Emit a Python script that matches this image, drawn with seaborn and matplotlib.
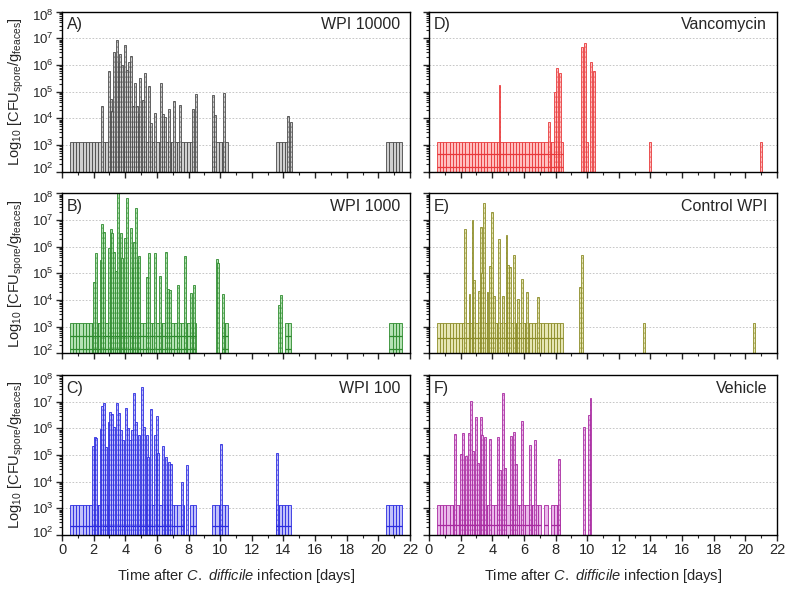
import matplotlib
matplotlib.use('Agg')
import matplotlib.pyplot as plt
import matplotlib.transforms as mtransforms
import seaborn as sns
from matplotlib.ticker import LogLocator, MultipleLocator, NullFormatter

# Sampling schedule (days after infection) shared by all groups
sample_days = [0.5, 0.7, 0.9, 1.1, 1.3, 1.5, 1.7, 1.9, 2.1, 2.3, 2.5, 2.7, 2.9, 3.1,
               3.3, 3.5, 3.7, 3.9, 4.1, 4.3, 4.5, 4.7, 4.9, 5.1, 5.3, 5.5, 5.7, 5.9,
               6.1, 6.3, 6.5, 6.7, 6.9, 7.1, 7.3, 7.5, 7.7, 7.9, 8.1, 8.3,
               9.5, 9.7, 9.9, 10.1, 10.3, 13.5, 13.7, 13.9, 14.1, 14.3,
               20.5, 20.7, 20.9, 21.1, 21.3]
lod_log = 3.12  # detection limit, log10 CFU/g
decades = [1e2, 1e3, 1e4, 1e5, 1e6, 1e7, 1e8]

# A) WPI 10000
a_days = [2.55, 2.97, 3.08, 3.18, 3.29, 3.46, 3.58, 3.69, 3.81, 3.98, 4.11, 4.24,
          4.36, 4.47, 4.59, 4.76, 4.89, 4.95, 5.14, 5.27, 5.48, 5.60, 5.88, 6.26,
          6.41, 6.51, 6.79, 7.08, 7.46, 8.26, 8.47, 9.57, 9.69, 10.26, 14.28, 14.45]
a_log = [4.46, 5.78, 4.71, 4.28, 6.48, 6.94, 6.06, 6.41, 6.00, 6.75, 5.81, 6.12,
         6.34, 4.46, 5.31, 4.46, 4.15, 5.50, 4.69, 5.71, 5.21, 3.81, 4.19, 5.31,
         4.15, 4.04, 4.34, 4.65, 4.49, 4.34, 4.91, 4.88, 4.13, 4.96, 4.09, 3.86]
a_lod_windows = [(0.5, 8.5), (9.5, 10.5), (13.5, 14.5), (20.5, 21.5)]
a_band_log = []

# B) WPI 1000
b_days = [2.04, 2.13, 2.44, 2.55, 2.66, 2.97, 3.08, 3.18, 3.29, 3.39, 3.56, 3.71,
          3.81, 3.98, 4.13, 4.34, 4.47, 4.55, 4.68, 4.78, 4.89, 5.35, 5.48, 5.86,
          6.19, 6.57, 6.70, 6.83, 7.31, 7.80, 8.15, 8.34, 9.78, 9.84, 10.20,
          13.70, 13.84]
b_log = [4.69, 5.75, 5.50, 6.84, 6.56, 5.94, 6.66, 6.50, 5.81, 5.10, 8.00, 6.50,
         5.56, 6.31, 7.81, 6.69, 5.19, 6.19, 7.44, 5.50, 5.65, 4.85, 5.75, 5.75,
         4.88, 5.79, 4.41, 4.38, 4.56, 5.63, 4.25, 4.55, 5.54, 5.38, 4.21,
         3.81, 4.19]
b_lod_windows = [(0.5, 8.5), (10.1, 10.5), (14.1, 14.5), (20.7, 21.5)]
b_band_log = [2.65, 2.15]

# C) WPI 100
c_days = [1.98, 2.07, 2.15, 2.44, 2.53, 2.63, 2.76, 2.95, 3.06, 3.16, 3.27, 3.46,
          3.62, 3.75, 3.88, 4.02, 4.19, 4.30, 4.45, 4.55, 4.68, 4.89, 5.08, 5.20,
          5.35, 5.46, 5.60, 5.88, 5.99, 6.09, 6.36, 6.57, 6.76, 6.89, 7.56, 7.88,
          10.07, 13.57]
c_log = [5.34, 5.69, 5.65, 5.96, 6.84, 6.96, 5.31, 6.25, 6.62, 6.53, 6.06, 6.96,
         6.59, 5.94, 5.56, 6.75, 6.03, 5.56, 5.94, 7.34, 6.25, 5.75, 7.54, 6.06,
         5.75, 4.94, 6.71, 5.75, 6.48, 5.09, 5.34, 4.94, 4.75, 4.66, 4.00, 4.63,
         5.41, 5.06]
c_lod_windows = [(0.5, 7.7), (8.1, 8.5), (9.5, 10.5), (13.5, 14.5), (20.5, 21.5)]
c_band_log = [2.34]

# D) Vancomycin
d_days = [4.46, 7.57, 7.97, 8.08, 8.29, 9.70, 9.89, 10.00, 10.23, 10.46, 14.00, 21.00]
d_log = [5.25, 3.85, 5.00, 5.90, 5.69, 6.69, 6.84, 3.12, 6.10, 5.79, 3.12, 3.12]
d_lod_windows = [(0.5, 8.5)]
d_band_log = [2.66, 2.17]

# E) Control WPI
e_days = [2.28, 2.56, 2.75, 2.87, 3.17, 3.28, 3.38, 3.49, 3.70, 3.87, 4.00, 4.12,
          4.40, 4.67, 4.90, 5.01, 5.14, 5.39, 5.64, 5.90, 6.19, 6.89, 9.57, 9.70,
          13.59, 20.55]
e_log = [6.65, 4.23, 7.00, 4.75, 4.35, 6.75, 5.00, 7.65, 4.31, 5.28, 7.28, 4.13,
         6.28, 4.13, 6.44, 5.31, 5.25, 5.69, 4.03, 4.78, 4.31, 4.10, 4.48, 5.68,
         3.12, 3.12]
e_lod_windows = [(0.5, 8.5)]
e_band_log = [2.56]

# F) Vehicle
f_days = [1.67, 2.05, 2.16, 2.35, 2.54, 2.66, 2.77, 2.96, 3.09, 3.28, 3.38, 3.55,
          3.87, 4.38, 4.50, 4.67, 4.82, 5.18, 5.35, 5.52, 5.88, 6.38, 6.70, 8.20,
          9.79, 10.12, 10.21]
f_log = [5.78, 5.04, 5.81, 4.96, 5.81, 7.04, 5.16, 6.41, 4.69, 6.41, 5.75, 5.69,
         5.59, 5.66, 4.44, 7.34, 4.53, 5.72, 5.88, 4.66, 6.29, 5.38, 5.55, 4.84,
         6.04, 6.50, 7.15]
f_lod_windows = [(0.5, 7.1), (7.3, 7.5), (7.7, 8.3)]
f_band_log = [2.38]

panels = [
    ('A)', 'WPI 10000', a_days, a_log, a_lod_windows, a_band_log, '#cfcfcf', '#4a4a4a'),
    ('B)', 'WPI 1000', b_days, b_log, b_lod_windows, b_band_log, '#b4e2b4', '#2e8b2e'),
    ('C)', 'WPI 100', c_days, c_log, c_lod_windows, c_band_log, '#c0c0fa', '#2b2be0'),
    ('D)', 'Vancomycin', d_days, d_log, d_lod_windows, d_band_log, '#ffc0c0', '#e8383a'),
    ('E)', 'Control WPI', e_days, e_log, e_lod_windows, e_band_log, '#e6e6b4', '#8c8c28'),
    ('F)', 'Vehicle', f_days, f_log, f_lod_windows, f_band_log, '#eab8ea', '#a82aa0'),
]

sns.set_style('ticks')
plt.rcParams['font.family'] = ['Liberation Sans', 'DejaVu Sans']
plt.rcParams['mathtext.fontset'] = 'custom'
plt.rcParams['mathtext.rm'] = 'Liberation Sans'
plt.rcParams['mathtext.it'] = 'Liberation Sans:italic'

fig = plt.figure(figsize=(7.9, 5.92), dpi=100)
lefts = [0.0785, 0.543]
bottoms = [0.710, 0.4032, 0.0963]
w, h = 0.4405, 0.2703

base = 1e2
for i, (tag, name, days, logs, windows, band, fill, edge) in enumerate(panels):
    col, row = divmod(i, 3)
    ax = fig.add_axes([lefts[col], bottoms[row], w, h])
    ax.set_yscale('log')

    # samples at detection limit
    lod_t = [d for d in sample_days if any(lo <= d < hi for lo, hi in windows)]
    ax.bar(lod_t, [10 ** lod_log - base] * len(lod_t), bottom=base, width=0.2,
           align='edge', color=fill, edgecolor=edge, linewidth=0.6, zorder=2)
    for lvl in band:
        ax.hlines([10 ** lvl] * len(lod_t), lod_t, [t + 0.2 for t in lod_t],
                  colors=edge, linewidth=0.9, zorder=3)

    # detected samples
    vals = [10 ** v for v in logs]
    ax.bar(days, [v - base for v in vals], bottom=base, width=0.12,
           color=fill, edgecolor=edge, linewidth=0.6, zorder=2)
    ax.vlines(days, base, vals, colors=edge, linewidth=0.6,
              linestyles=(0, (1, 5)), zorder=3)

    ax.set_xlim(0, 22)
    ax.set_ylim(1e2, 1e8)
    ax.xaxis.set_major_locator(MultipleLocator(2))
    ax.xaxis.set_minor_locator(MultipleLocator(1))
    ax.set_yticks(decades)
    ax.yaxis.set_minor_locator(LogLocator(base=10, subs=range(2, 10), numticks=10))
    ax.yaxis.set_minor_formatter(NullFormatter())
    ax.tick_params(which='major', direction='out', length=4, width=1.0,
                   pad=2, top=False, right=False)
    ax.tick_params(which='minor', direction='out', length=2.5, width=0.8,
                   top=False, right=False)
    ax.tick_params(axis='y', labelsize=9.5)
    for sp in ax.spines.values():
        sp.set_linewidth(1.0)
        sp.set_color('black')

    for lvl in decades[1:-1]:
        ax.axhline(lvl, color='#bdbdbd', linewidth=0.6, linestyle=(0, (2, 2)), zorder=1)

    if row < 2:
        ax.tick_params(axis='x', labelbottom=False)
    else:
        ax.tick_params(axis='x', labelsize=10.5)
        ax.set_xlabel(r'Time after $\it{C.}$ $\it{difficile}$ infection [days]',
                      fontsize=10.5, labelpad=7)
    if col == 1:
        ax.tick_params(axis='y', labelleft=False)
    else:
        ax.set_ylabel(r'Log$_{10}$ [CFU$_{\mathrm{spore}}$/g$_{\mathrm{feaces}}$]',
                      fontsize=10.5, labelpad=4)
        # nudge the end labels apart so neighbouring panels don't collide
        labels = ax.get_yticklabels()
        up = mtransforms.ScaledTranslation(0, 2.5 / 72, fig.dpi_scale_trans)
        down = mtransforms.ScaledTranslation(0, -2.5 / 72, fig.dpi_scale_trans)
        labels[0].set_transform(labels[0].get_transform() + up)
        labels[-1].set_transform(labels[-1].get_transform() + down)

    ax.text(0.013, 0.965, tag, transform=ax.transAxes, ha='left', va='top', fontsize=11.5)
    ax.text(0.972, 0.965, name, transform=ax.transAxes, ha='right', va='top', fontsize=11.5)

fig.savefig('out.png', dpi=100)
